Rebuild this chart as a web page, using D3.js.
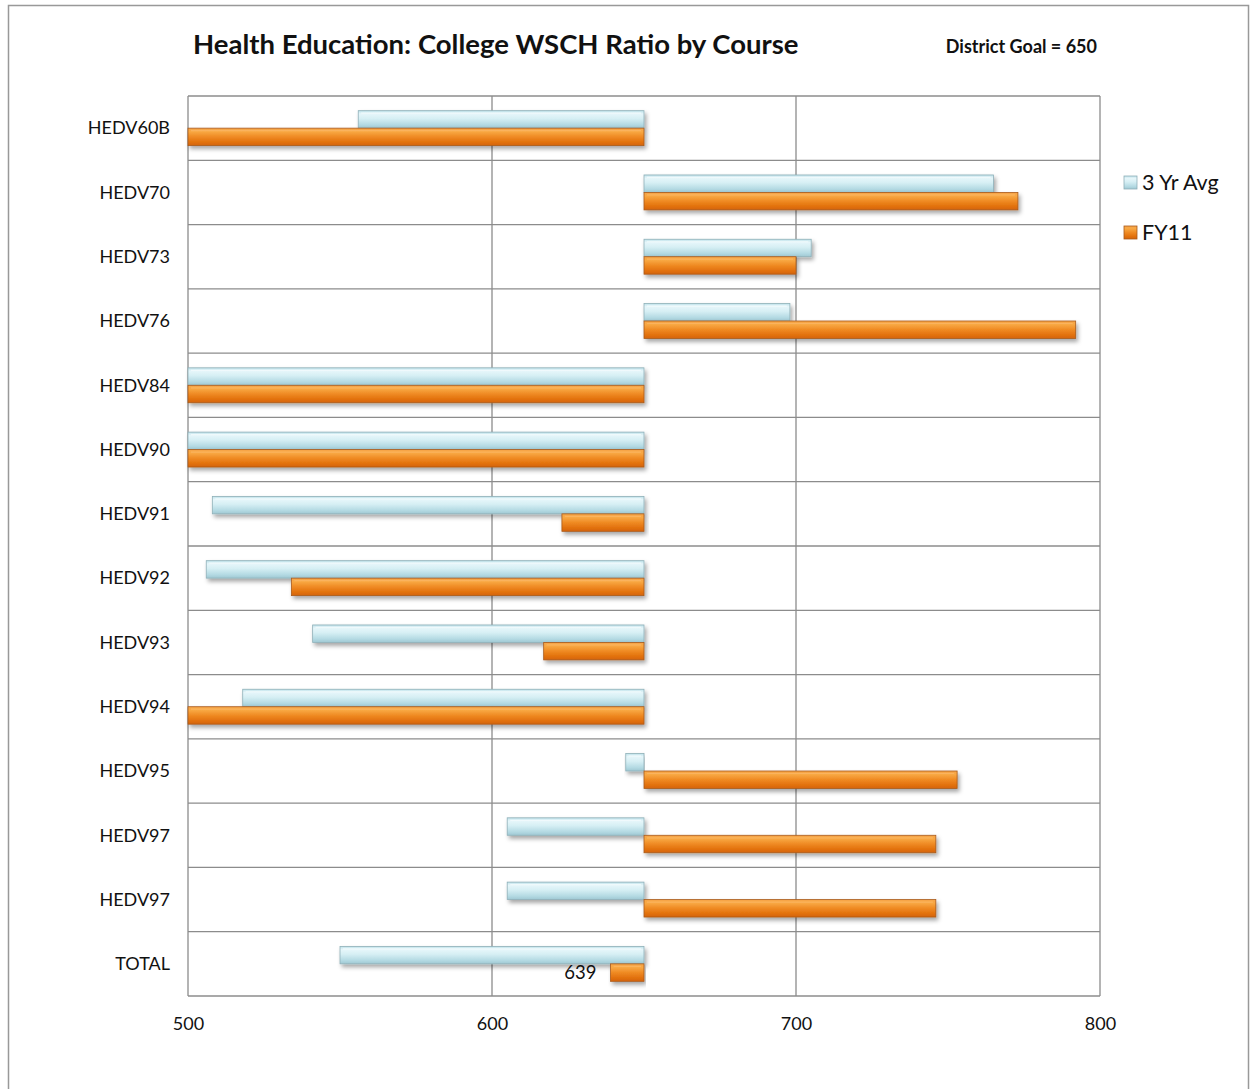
<!DOCTYPE html>
<html>
<head>
<meta charset="utf-8">
<script src="https://cdn.jsdelivr.net/npm/d3@7"></script>
<style>
  html, body { margin: 0; padding: 0; background: #fff; }
  svg { display: block; font-family: Lato, "Open Sans", sans-serif; }
</style>
</head>
<body>
<svg id="chart" width="1250" height="1089"></svg>
<script>
// Course list (top to bottom) and the two series of WSCH ratios
const courses = ["HEDV60B", "HEDV70", "HEDV73", "HEDV76", "HEDV84", "HEDV90", "HEDV91",
                 "HEDV92", "HEDV93", "HEDV94", "HEDV95", "HEDV97", "HEDV97", "TOTAL"];
const avg3yr = [556, 765, 705, 698, 470, 470, 508, 506, 541, 518, 644, 605, 605, 550];
const fy11   = [470, 773, 700, 792, 470, 470, 623, 534, 617, 470, 753, 746, 746, 639];
const seriesNames = ["3 Yr Avg", "FY11"];
const xTicks = [500, 600, 700, 800];
const goal = 650;

const svg = d3.select("#chart");

// Outer chart frame
svg.append("rect")
  .attr("x", 8.5).attr("y", 5.5).attr("width", 1240).attr("height", 1100)
  .attr("fill", "#fff").attr("stroke", "#999").attr("stroke-width", 1.5);

const plot = { left: 188, right: 1100, top: 96, bottom: 996 };

const x = d3.scaleLinear().domain([500, 800]).range([plot.left, plot.right]).clamp(true);
const y = d3.scaleBand().domain(d3.range(courses.length)).range([plot.top, plot.bottom]);
const ySub = d3.scaleBand().domain(seriesNames).range([0, y.bandwidth()]).paddingOuter(0.84);

// Gradients and shadow
const defs = svg.append("defs");
function grad(id, stops) {
  const g = defs.append("linearGradient").attr("id", id)
    .attr("x1", 0).attr("y1", 0).attr("x2", 0).attr("y2", 1);
  stops.forEach(([o, c]) => g.append("stop").attr("offset", o).attr("stop-color", c));
}
grad("gBlue", [[0, "#bfe2ea"], [0.18, "#e6f6fa"], [0.45, "#d6eff4"], [0.8, "#b4dae3"], [1, "#9fc8d3"]]);
grad("gOrange", [[0, "#f6a447"], [0.2, "#f8a843"], [0.5, "#ef8a23"], [0.8, "#e2710d"], [1, "#d4640a"]]);
const f = defs.append("filter").attr("id", "shadow")
  .attr("x", "-5%").attr("y", "-40%").attr("width", "110%").attr("height", "200%");
f.append("feDropShadow").attr("dx", 2).attr("dy", 3).attr("stdDeviation", 2)
  .attr("flood-color", "#000").attr("flood-opacity", 0.35);

const fills = { "3 Yr Avg": "url(#gBlue)", "FY11": "url(#gOrange)" };
const strokes = { "3 Yr Avg": "#8fb0b8", "FY11": "#a85a1c" };
const edges = { "3 Yr Avg": "#f4fbfd", "FY11": "#fbb765" };

// Grid: horizontal band separators and vertical tick lines
const grid = svg.append("g").attr("stroke", "#8c8c8c").attr("stroke-width", 1.3);
grid.selectAll("line.h")
  .data(d3.range(courses.length + 1))
  .join("line")
  .attr("x1", plot.left).attr("x2", plot.right)
  .attr("y1", i => i < courses.length ? y(i) : plot.bottom)
  .attr("y2", i => i < courses.length ? y(i) : plot.bottom);
grid.selectAll("line.v")
  .data(xTicks)
  .join("line")
  .attr("x1", d => x(d)).attr("x2", d => x(d))
  .attr("y1", plot.top).attr("y2", plot.bottom);

// Bars diverging from the district goal
const rows = courses.map((c, i) => ({
  i, course: c,
  vals: [{ s: "3 Yr Avg", v: avg3yr[i] }, { s: "FY11", v: fy11[i] }]
}));

const barG = svg.append("g");
rows.forEach(r => {
  r.vals.forEach(d => {
    const x0 = Math.min(x(d.v), x(goal));
    const x1 = Math.max(x(d.v), x(goal));
    const by = y(r.i) + ySub(d.s), bh = ySub.bandwidth();
    barG.append("rect")
      .attr("x", x0).attr("y", by)
      .attr("width", x1 - x0).attr("height", bh)
      .attr("fill", fills[d.s]).attr("stroke", strokes[d.s]).attr("stroke-width", 0.8)
      .attr("filter", "url(#shadow)");
    // bevel highlight along the top edge
    barG.append("line")
      .attr("x1", x0 + 3).attr("x2", x1 - 3)
      .attr("y1", by + 2.5).attr("y2", by + 2.5)
      .attr("stroke", edges[d.s]).attr("stroke-width", 1.2).attr("opacity", 0.8);
  });
});

// Value label on TOTAL FY11
const last = courses.length - 1;
svg.append("text")
  .attr("x", Math.min(x(fy11[last]), x(goal)) - 14)
  .attr("y", y(last) + ySub("FY11") + ySub.bandwidth() / 2)
  .attr("dy", "0.35em").attr("text-anchor", "end")
  .attr("font-size", 18.5).attr("fill", "#111")
  .text(fy11[last]);

// Category labels
svg.append("g").selectAll("text")
  .data(courses)
  .join("text")
  .attr("x", 170)
  .attr("y", (d, i) => y(i) + y.bandwidth() / 2)
  .attr("dy", "0.35em").attr("text-anchor", "end")
  .attr("font-size", 18).attr("fill", "#111")
  .text(d => d);

// X axis tick labels
const xAxis = d3.axisBottom(x).tickValues(xTicks).tickSize(0).tickPadding(21);
const ax = svg.append("g").attr("transform", `translate(0,${plot.bottom})`).call(xAxis);
ax.select(".domain").remove();
ax.selectAll("text").attr("font-size", 18).attr("fill", "#111")
  .attr("font-family", "Lato, 'Open Sans', sans-serif");

// Titles
svg.append("text").attr("x", 193).attr("y", 54)
  .attr("font-size", 27.5).attr("font-weight", "bold").attr("fill", "#111")
  .text("Health Education: College WSCH Ratio by Course");
svg.append("text").attr("x", 1097).attr("y", 53).attr("text-anchor", "end")
  .attr("font-size", 18).attr("font-weight", "bold").attr("fill", "#111")
  .text("District Goal = " + goal);

// Legend
const legend = svg.append("g").attr("transform", "translate(1124,176)");
seriesNames.forEach((s, i) => {
  const g = legend.append("g").attr("transform", `translate(0,${i * 50})`);
  g.append("rect").attr("x", 0).attr("y", 0).attr("width", 13).attr("height", 13)
    .attr("fill", fills[s]).attr("stroke", strokes[s]).attr("stroke-width", 0.8);
  g.append("text").attr("x", 18).attr("y", 6.5).attr("dy", "0.35em")
    .attr("font-size", 21.5).attr("fill", "#111").text(s);
});
</script>
</body>
</html>
